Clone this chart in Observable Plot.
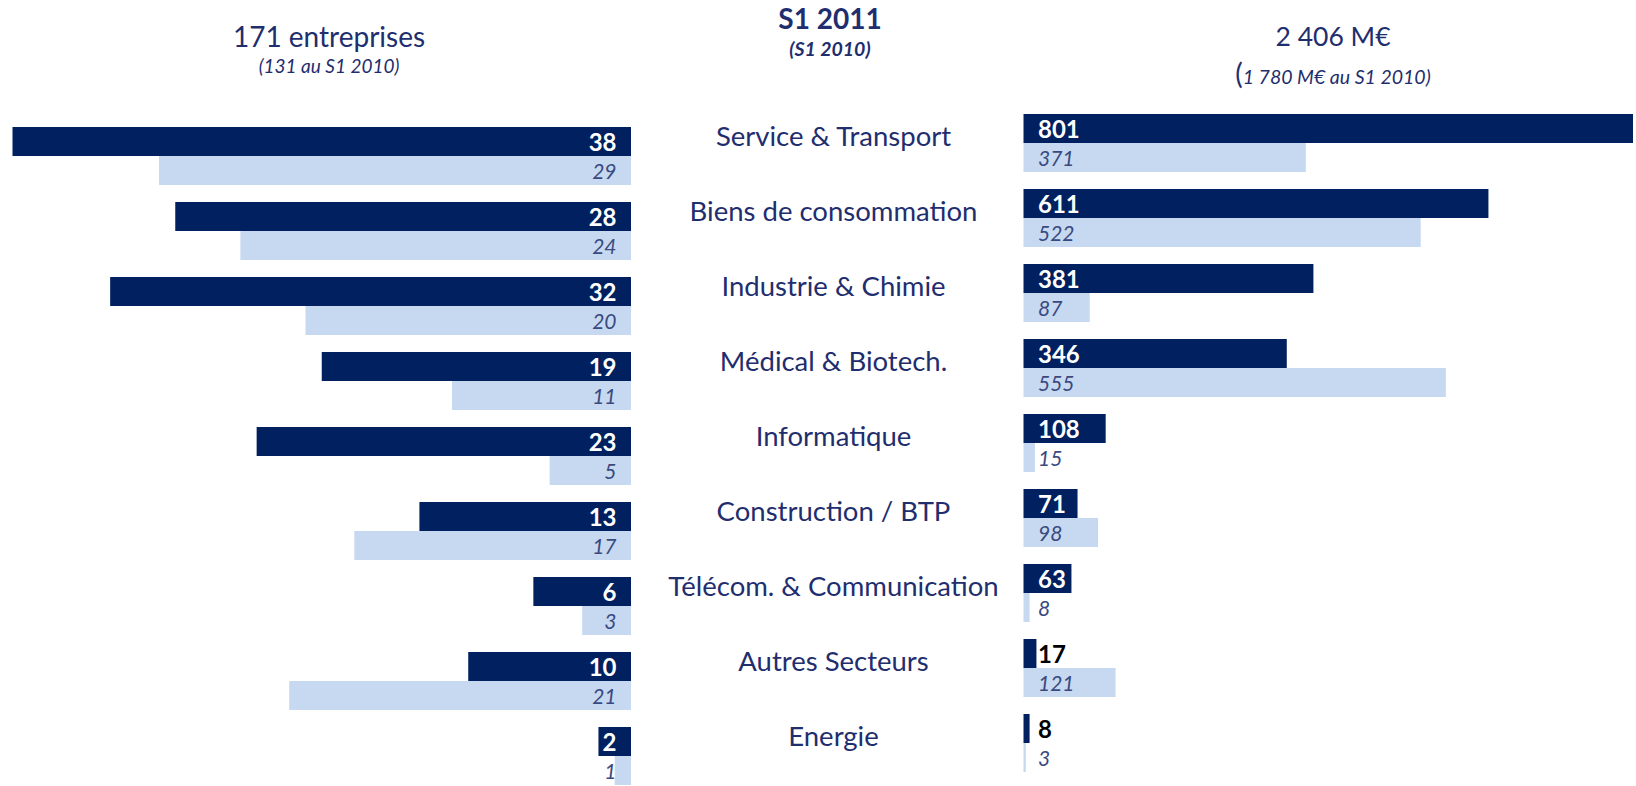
<!DOCTYPE html>
<html>
<head>
<meta charset="utf-8">
<script src="https://cdn.jsdelivr.net/npm/d3@7"></script>
<script src="https://cdn.jsdelivr.net/npm/@observablehq/plot@0.6"></script>
<style>
  html, body { margin: 0; padding: 0; background: #fff; overflow: hidden; }
  body { width: 1636px; height: 786px; position: relative; font-family: Lato, "Open Sans", sans-serif; color: #1f2e6e; }
  .hdr { position: absolute; width: 420px; text-align: center; white-space: nowrap; }
</style>
</head>
<body>
<script>
// ---- Data ----
const categories = [
  "Service & Transport", "Biens de consommation", "Industrie & Chimie",
  "Médical & Biotech.", "Informatique", "Construction / BTP",
  "Télécom. & Communication", "Autres Secteurs", "Energie"
];
const companies2011 = [38, 28, 32, 19, 23, 13, 6, 10, 2];
const companies2010 = [29, 24, 20, 11, 5, 17, 3, 21, 1];
const amount2011 = [801, 611, 381, 346, 108, 71, 63, 17, 8];
const amount2010 = [371, 522, 87, 555, 15, 98, 8, 121, 3];
const seriesNames = ["S1 2011", "S1 2010"];
const headerLeft = ["171 entreprises", "(131 au S1 2010)"];
const headerCenter = ["S1 2011", "(S1 2010)"];
const headerRight = ["2 406 M€", "(", "1 780 M€ au S1 2010)"];

// ---- Styles ----
const DARK = "#002060";
const LIGHT = "#c6d9f1";
const NAVY = "#1f2e6e";
const ITAL = "#3a4a80";
const FONT = "Lato, 'Open Sans', sans-serif";

const mk = (vals, s) => categories.map((c, i) => ({cat: c, series: s, v: vals[i]}));
const leftDark = mk(companies2011, seriesNames[0]);
const leftLight = mk(companies2010, seriesNames[1]);
const rightDark = mk(amount2011, seriesNames[0]);
const rightLight = mk(amount2010, seriesNames[1]);

const fyOpts = {domain: categories, paddingInner: 0.225, paddingOuter: 0.1125, axis: null};
const yOpts = {domain: seriesNames, padding: 0, axis: null};
const baseStyle = {background: "transparent", fontFamily: FONT, overflow: "visible"};

// ---- Left panel: companies ----
const left = Plot.plot({
  width: 640, height: 796,
  marginTop: 117, marginBottom: 0, marginLeft: 0, marginRight: 0,
  style: baseStyle,
  x: {domain: [0, 38], range: [631, 12.5], axis: null},
  y: yOpts, fy: fyOpts,
  marks: [
    Plot.barX(leftLight, {x: "v", y: "series", fy: "cat", fill: LIGHT}),
    Plot.barX(leftDark, {x: "v", y: "series", fy: "cat", fill: DARK}),
    Plot.text(leftDark, {x: 0, y: "series", fy: "cat", text: d => String(d.v), textAnchor: "end", dx: -15, dy: 1,
      fill: "white", fontWeight: "bold", fontSize: 24}),
    Plot.text(leftLight, {x: 0, y: "series", fy: "cat", text: d => String(d.v), textAnchor: "end", dx: -15, dy: 1,
      fill: ITAL, fontStyle: "italic", fontSize: 21})
  ]
});
left.style.position = "absolute"; left.style.left = "0px"; left.style.top = "0px";
document.body.appendChild(left);

// ---- Right panel: amounts ----
const right = Plot.plot({
  width: 633, height: 784,
  marginTop: 103, marginBottom: 0, marginLeft: 0, marginRight: 0,
  style: baseStyle,
  x: {domain: [0, 801], range: [20.5, 630], axis: null},
  y: yOpts, fy: fyOpts,
  marks: [
    Plot.barX(rightLight, {x: "v", y: "series", fy: "cat", fill: LIGHT}),
    Plot.barX(rightDark, {x: "v", y: "series", fy: "cat", fill: DARK}),
    Plot.text(rightDark, {filter: d => d.v > 40, x: 0, y: "series", fy: "cat", text: d => String(d.v), textAnchor: "start", dx: 14, dy: 1,
      fill: "white", fontWeight: "bold", fontSize: 24}),
    Plot.text(rightDark, {filter: d => d.v <= 40, x: 0, y: "series", fy: "cat", text: d => String(d.v), textAnchor: "start", dx: 14, dy: 1,
      fill: "black", fontWeight: "bold", fontSize: 24}),
    Plot.text(rightLight, {x: 0, y: "series", fy: "cat", text: d => String(d.v), textAnchor: "start", dx: 14, dy: 1,
      fill: ITAL, fontStyle: "italic", fontSize: 21})
  ]
});
right.style.position = "absolute"; right.style.left = "1003px"; right.style.top = "0px";
document.body.appendChild(right);

// ---- Center category labels ----
const center = Plot.plot({
  width: 386, height: 784,
  marginTop: 103, marginBottom: 0, marginLeft: 0, marginRight: 0,
  style: baseStyle,
  y: yOpts, fy: fyOpts,
  marks: [
    Plot.text(rightDark, {y: "series", fy: "cat", text: "cat", frameAnchor: "middle", dy: 23,
      fill: NAVY, fontSize: 27.5})
  ]
});
center.style.position = "absolute"; center.style.left = "640px"; center.style.top = "0px";
document.body.appendChild(center);

// ---- Headers ----
function hdr(cx, cy, html, css) {
  const d = document.createElement("div");
  d.className = "hdr";
  d.style.left = (cx - 210) + "px";
  d.style.top = (cy - 20) + "px";
  d.style.lineHeight = "40px";
  d.style.height = "40px";
  Object.assign(d.style, css || {});
  d.innerHTML = html;
  document.body.appendChild(d);
}
hdr(329, 36, headerLeft[0], {fontSize: "28px"});
hdr(329, 66, headerLeft[1], {fontSize: "19px", fontStyle: "italic"});
hdr(830, 18, headerCenter[0], {fontSize: "28px", fontWeight: "bold"});
hdr(830, 49, headerCenter[1], {fontSize: "19.5px", fontWeight: "bold", fontStyle: "italic"});
hdr(1333, 36, headerRight[0], {fontSize: "26.5px"});
hdr(1333, 73, '<span style="font-size:28px">' + headerRight[1] + '</span><span style="font-style:italic">' + headerRight[2] + '</span>', {fontSize: "19.5px"});
</script>
</body>
</html>
